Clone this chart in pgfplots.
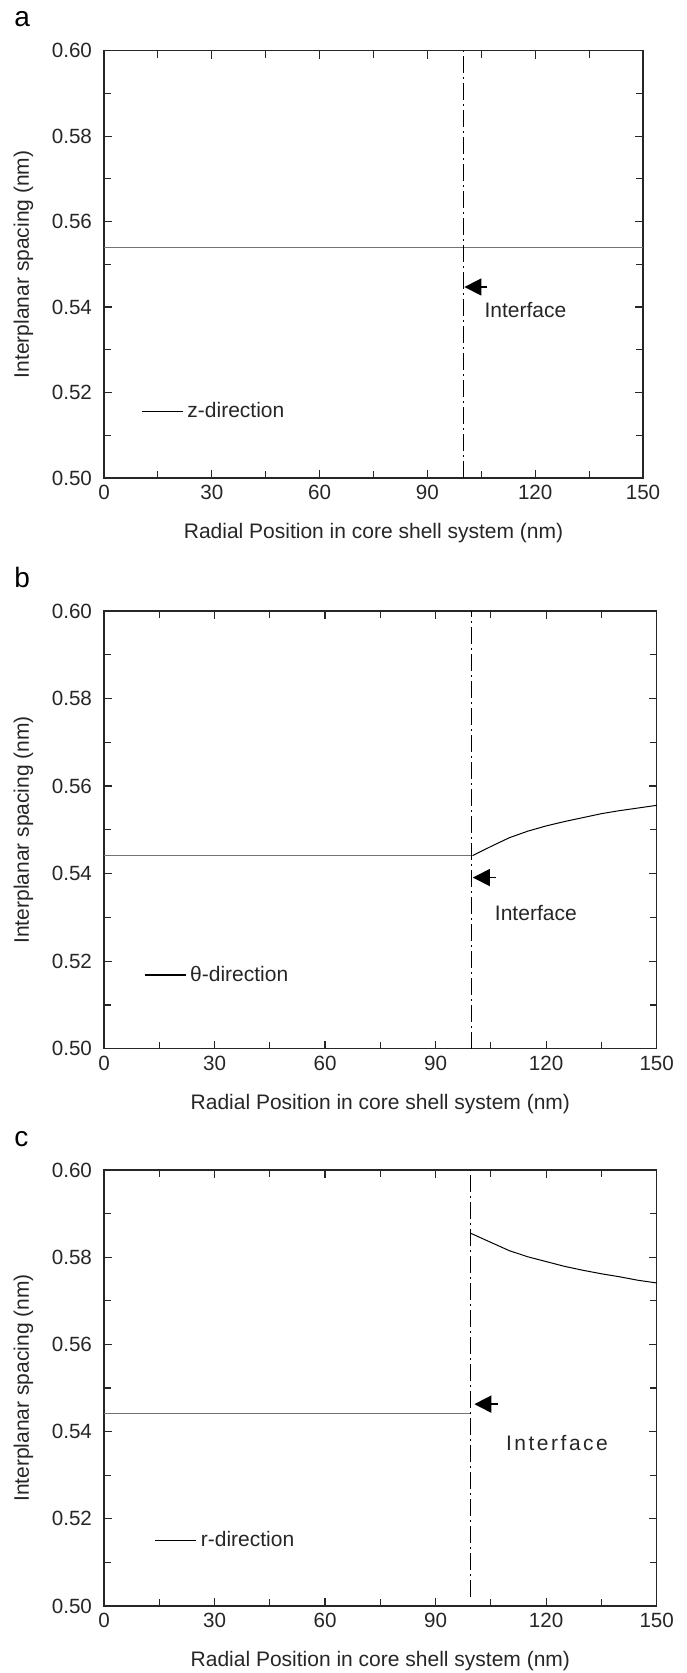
\documentclass[border=0pt]{standalone}
\usepackage{fontspec}
\setmainfont{Liberation Sans}
\usepackage{pgfplots}
\pgfplotsset{compat=1.18}
\usetikzlibrary{arrows.meta}

\tikzset{
  arr/.style={black, line width=0.8pt, -{Triangle[length=8.5pt,width=8.5pt]}},
  hline/.style={black!55, line width=0.7pt},
  curve/.style={black, line width=0.5pt},
  iface/.style={black, line width=0.75pt, dash pattern=on 8.5pt off 2pt on 1pt off 2pt},
  lbl/.style={font=\fontsize{10.5}{12.5}\selectfont, text=black!85},
}
\pgfplotsset{
  panel/.style={
    scale only axis,
    xmin=0, xmax=150, ymin=0.5, ymax=0.6,
    xtick={0,30,60,90,120,150},
    ytick={0.50,0.52,0.54,0.56,0.58,0.60},
    minor x tick num=1, minor y tick num=1,
    tick align=inside,
    major tick length=4pt, minor tick length=3.5pt,
    every tick/.style={line width=0.6pt, black!85},
    axis line style={line width=0.7pt, black!85},
    tick label style={font=\fontsize{10.3}{12}\selectfont, black!85},
    label style={font=\fontsize{10.5}{12.5}\selectfont, black!85},
    /pgf/number format/assume math mode=true,
    y tick label style={/pgf/number format/fixed, /pgf/number format/fixed zerofill, /pgf/number format/precision=2, xshift=-2.5pt},
    scaled y ticks=false,
    xlabel={Radial Position in core shell system (nm)},
    ylabel={Interplanar spacing (nm)},
    xlabel style={at={(axis description cs:0.5,0)}, anchor=center, yshift=-27.5pt},
    clip=false,
    legend style={draw=none, fill=none, inner sep=0pt, font=\fontsize{10.5}{12.5}\selectfont, text=black!85},
    legend cell align=left,
    legend image code/.code={\draw[#1] (0pt,0pt) -- (20.5pt,0pt);},
  },
}

\begin{document}
\begin{tikzpicture}
\path[use as bounding box] (0pt,0pt) rectangle (343pt,-836.5pt);

% ---------------- panel a ----------------
\begin{axis}[panel,
  at={(52pt,-239pt)}, anchor=south west,
  width=269.5pt, height=213.65pt,
  ylabel style={at={(axis description cs:-0.1494,0.5)}, anchor=center},
  legend style={at={(axis cs:10.2,0.5155)}, anchor=west}]
\addplot[hline, forget plot] coordinates {(0,0.554) (150,0.554)};
\addplot[iface, forget plot] coordinates {(100,0.5) (100,0.6)};
\addlegendimage{black, line width=0.7pt}
\addlegendentry{z-direction}
\draw[arr] (axis cs:106.7,0.5447) -- (axis cs:100.3,0.5447);
\node[lbl, anchor=west, inner sep=0pt] at (axis cs:105.8,0.5394) {Interface};
\node[anchor=base west, inner sep=0pt, font=\fontsize{14}{16}\selectfont] at (axis description cs:-0.167,1.0562) {a};
\end{axis}

% ---------------- panel b ----------------
\begin{axis}[panel,
  at={(52pt,-524.35pt)}, anchor=south west,
  width=276.35pt, height=218.85pt,
  ylabel style={at={(axis description cs:-0.1457,0.5)}, anchor=center},
  legend style={at={(axis cs:10.7,0.5168)}, anchor=west}]
\addplot[hline, forget plot] coordinates {(0,0.5441) (100,0.5441)};
\addplot[curve, forget plot] coordinates {
  (100,0.5441) (105,0.5462) (110,0.5482) (115,0.5497) (120,0.5509)
  (125,0.5519) (130,0.5528) (135,0.5537) (140,0.5544) (145,0.5550) (150,0.5556)};
\addplot[iface, forget plot] coordinates {(99.8,0.5) (99.8,0.6)};
\addlegendimage{black, line width=0.7pt}
\addlegendentry{θ-direction}
\draw[arr] (axis cs:106.4,0.5391) -- (axis cs:100.1,0.5391);
\node[lbl, anchor=west, inner sep=0pt] at (axis cs:106,0.5311) {Interface};
\node[anchor=base west, inner sep=0pt, font=\fontsize{14}{16}\selectfont] at (axis description cs:-0.163,1.0548) {b};
\end{axis}

% ---------------- panel c ----------------
\begin{axis}[panel,
  at={(52pt,-803pt)}, anchor=south west,
  width=276.35pt, height=218pt,
  ylabel style={at={(axis description cs:-0.1457,0.5)}, anchor=center},
  legend style={at={(axis cs:13.6,0.515)}, anchor=west}]
\addplot[hline, forget plot] coordinates {(0,0.5442) (99.5,0.5442)};
\addplot[curve, forget plot] coordinates {
  (99.5,0.5855) (105,0.5834) (110,0.5815) (115,0.5801) (120,0.5790)
  (125,0.5779) (130,0.5770) (135,0.5762) (140,0.5755) (145,0.5747) (150,0.5741)};
\addplot[iface, forget plot] coordinates {(99.5,0.502) (99.5,0.6)};
\addlegendimage{black, line width=0.7pt}
\addlegendentry{r-direction}
\draw[arr] (axis cs:106.8,0.5463) -- (axis cs:100.5,0.5463);
\node[lbl, anchor=west, inner sep=0pt] at (axis cs:109,0.5374) {\addfontfeature{LetterSpace=12}Interface};
\node[anchor=base west, inner sep=0pt, font=\fontsize{14}{16}\selectfont] at (axis description cs:-0.163,1.055) {c};
\end{axis}
\end{tikzpicture}
\end{document}
